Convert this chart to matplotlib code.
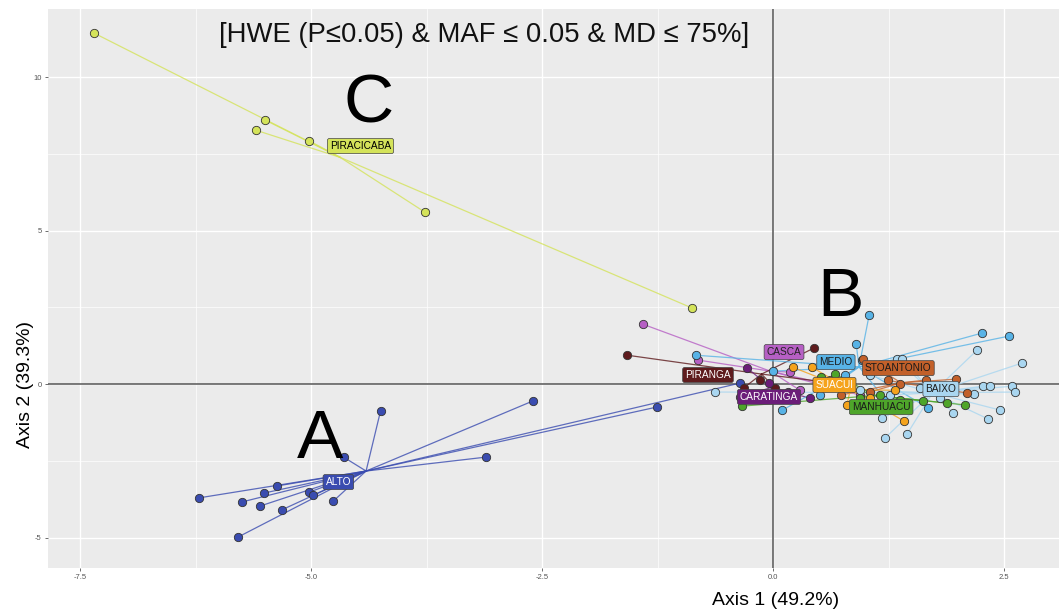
import matplotlib
matplotlib.use("Agg")
import matplotlib.pyplot as plt
import numpy as np

plt.rcParams['font.family'] = ['Liberation Sans', 'DejaVu Sans']

# group names, colours and individual coordinates (Axis 1, Axis 2)
groups = ["PIRACICABA", "ALTO", "CASCA", "PIRANGA", "CARATINGA", "MEDIO",
          "BAIXO", "STOANTONIO", "SUACUI", "MANHUACU"]

colors = {"PIRACICABA": "#d4e35a", "ALTO": "#3a4cb0", "CASCA": "#b65fc4",
          "PIRANGA": "#5e1b1d", "CARATINGA": "#6b1d79", "MEDIO": "#58b3e6",
          "BAIXO": "#a9d6f0", "STOANTONIO": "#c2602a", "SUACUI": "#f5a31c",
          "MANHUACU": "#4ea52a"}
text_colors = {"PIRACICABA": "black", "ALTO": "white", "CASCA": "#222222",
               "PIRANGA": "white", "CARATINGA": "white", "MEDIO": "#1a1a1a",
               "BAIXO": "#1a1a1a", "STOANTONIO": "#1a1a1a", "SUACUI": "white",
               "MANHUACU": "#1a1a1a"}

piracicaba_x = [-7.35, -5.50, -5.60, -5.02, -3.77, -0.88]
piracicaba_y = [11.43, 8.60, 8.27, 7.92, 5.60, 2.48]

alto_x = [-6.22, -5.75, -5.55, -5.51, -5.37, -5.32, -5.79, -5.02, -4.98, -4.76,
          -4.65, -4.25, -3.11, -2.60, -1.26, -0.36]
alto_y = [-3.71, -3.84, -3.97, -3.55, -3.32, -4.10, -4.98, -3.52, -3.62, -3.81,
          -2.38, -0.88, -2.38, -0.55, -0.75, 0.03]

casca_x = [-1.41, -0.81, 0.18, 0.62, 0.94, 0.29]
casca_y = [1.95, 0.78, 0.39, -0.03, -0.36, -0.20]

piranga_x = [-1.58, 0.44, -0.32, 0.02, -0.14, 0.83]
piranga_y = [0.94, 1.17, -0.13, -0.13, 0.13, -0.03]

caratinga_x = [-0.28, -0.04, 0.16, 0.40, -0.36]
caratinga_y = [0.52, 0.03, -0.26, -0.46, -0.42]

medio_x = [1.04, 0.90, -0.84, 0.00, 0.10, 1.68, 2.26, 2.55, 1.22, 0.78, 0.51, 0.96]
medio_y = [2.25, 1.30, 0.94, 0.42, -0.85, -0.78, 1.66, 1.56, -0.52, 0.29, -0.36, 0.78]

baixo_x = [2.21, 2.69, 2.27, 2.35, 2.59, 2.62, 2.46, 2.33, 2.18, 1.95, 1.18,
           1.21, 1.45, -0.63, 1.34, 1.40, 0.94, 1.59, 1.81, 1.05, 1.27]
baixo_y = [1.11, 0.68, -0.07, -0.07, -0.07, -0.26, -0.85, -1.14, -0.33, -0.94, -1.11,
           -1.76, -1.63, -0.26, 0.81, 0.81, -0.20, -0.13, -0.46, 0.29, -0.36]

stoantonio_x = [1.98, 1.24, 2.10, 0.97, 0.73, 1.05, 1.37, 1.65]
stoantonio_y = [0.16, 0.13, -0.29, 0.81, -0.36, -0.26, 0.00, 0.13]

suacui_x = [1.42, 0.21, 0.42, 0.80, 0.62, 1.05, 1.32]
suacui_y = [-1.21, 0.55, 0.55, -0.68, 0.13, -0.46, -0.20]

manhuacu_x = [1.62, 1.88, 2.08, 0.67, 0.52, -0.34, 1.16, 1.37, 0.94]
manhuacu_y = [-0.55, -0.62, -0.68, 0.33, 0.23, -0.72, -0.36, -0.52, -0.46]

coords = {"PIRACICABA": (piracicaba_x, piracicaba_y), "ALTO": (alto_x, alto_y),
          "CASCA": (casca_x, casca_y), "PIRANGA": (piranga_x, piranga_y),
          "CARATINGA": (caratinga_x, caratinga_y), "MEDIO": (medio_x, medio_y),
          "BAIXO": (baixo_x, baixo_y), "STOANTONIO": (stoantonio_x, stoantonio_y),
          "SUACUI": (suacui_x, suacui_y), "MANHUACU": (manhuacu_x, manhuacu_y)}

# repelled label offsets from the centroid
label_nudge = {"PIRACICABA": (0.22, 0.37), "ALTO": (-0.30, -0.36),
               "CASCA": (0.15, 0.62), "PIRANGA": (-0.58, -0.03),
               "CARATINGA": (-0.02, -0.30), "MEDIO": (-0.25, 0.16),
               "BAIXO": (0.09, 0.12), "STOANTONIO": (-0.03, 0.48),
               "SUACUI": (-0.17, 0.16), "MANHUACU": (0.07, -0.38)}

xticks = [-7.5, -5.0, -2.5, 0.0, 2.5]
xticklabels = ["-7.5", "-5.0", "-2.5", "0.0", "2.5"]
yticks = [-5, 0, 5, 10]
yticklabels = ["-5", "0", "5", "10"]

fig = plt.figure(figsize=(10.59, 6.14), dpi=100)
ax = fig.add_axes([0.0453, 0.075, 0.9547, 0.910])
ax.set_facecolor("#ebebeb")
for s in ax.spines.values():
    s.set_visible(False)

ax.set_xlim(-7.85, 3.095)
ax.set_ylim(-5.99, 12.21)
ax.set_xticks(xticks)
ax.set_xticklabels(xticklabels)
ax.set_yticks(yticks)
ax.set_yticklabels(yticklabels)
ax.set_xticks([-6.25, -3.75, -1.25, 1.25], minor=True)
ax.set_yticks([-2.5, 2.5, 7.5], minor=True)
ax.grid(which="major", color="white", lw=1.0)
ax.grid(which="minor", color="white", lw=0.5)
ax.set_axisbelow(True)
ax.tick_params(which="major", length=2.5, width=0.6, color="#555555",
               labelsize=5.5, labelcolor="#555555", pad=2)
ax.tick_params(which="minor", length=0)

ax.axhline(0, color="#555555", lw=1.1, zorder=1)
ax.axvline(0, color="#555555", lw=1.1, zorder=1)

centroids = {}
for g in groups:
    xs, ys = np.array(coords[g][0]), np.array(coords[g][1])
    cx, cy = xs.mean(), ys.mean()
    centroids[g] = (cx, cy)
    for x, y in zip(xs, ys):
        ax.plot([cx, x], [cy, y], color=colors[g], lw=0.9, alpha=0.8, zorder=2)

for g in groups:
    xs, ys = coords[g]
    ax.scatter(xs, ys, s=36, color=colors[g], edgecolor="#333333",
               linewidth=0.6, zorder=3)

for g in groups:
    cx, cy = centroids[g]
    dx, dy = label_nudge[g]
    ax.text(cx + dx, cy + dy, g, ha="center", va="center", fontsize=7.3,
            color=text_colors[g], zorder=5,
            bbox=dict(boxstyle="round,pad=0.25,rounding_size=0.2",
                      fc=colors[g], ec="#444444", lw=0.5))

ax.text(-3.13, 11.37, "[HWE (P\u22640.05) & MAF \u2264 0.05 & MD \u2264 75%]",
        ha="center", va="center", fontsize=19.8, color="#111111", zorder=6)
ax.text(-4.90, -1.82, "A", ha="center", va="center", fontsize=50, zorder=6)
ax.text(0.73, 2.80, "B", ha="center", va="center", fontsize=50, zorder=6)
ax.text(-4.38, 9.09, "C", ha="center", va="center", fontsize=50, zorder=6)

fig.text(0.732, 0.022, "Axis 1 (49.2%)", ha="center", va="center", fontsize=14)
fig.text(0.024, 0.373, "Axis 2 (39.3%)", ha="center", va="center", fontsize=14,
         rotation=90)

fig.savefig("out.png", dpi=100)
